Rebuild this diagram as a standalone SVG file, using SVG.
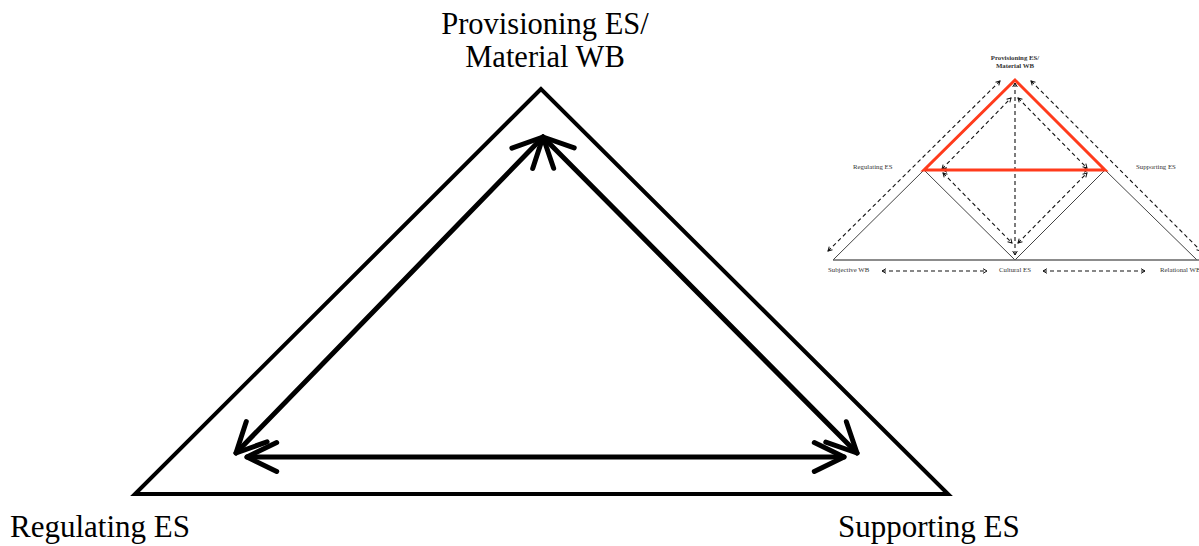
<svg xmlns="http://www.w3.org/2000/svg" width="1199" height="546" viewBox="0 0 1199 546">
<style>
.lbl{font-family:"Liberation Serif","Times New Roman",serif;font-size:31px;fill:#000}
.tri{fill:none;stroke:#000;stroke-width:4;stroke-linejoin:miter}
.arr{fill:none;stroke:#000;stroke-width:5;stroke-linecap:round}
.small{font-family:"Liberation Serif","Times New Roman",serif;font-size:6.8px;fill:#333}
.thin{fill:none;stroke:#444;stroke-width:1}
.dash{fill:none;stroke:#111;stroke-width:1.1;stroke-dasharray:4 3}
.red{fill:none;stroke:#ff3b1c;stroke-width:3;stroke-linejoin:miter}
</style>
<defs>
<marker id="big" markerUnits="userSpaceOnUse" markerWidth="44" markerHeight="44" viewBox="-38 -22 44 44" refX="0" refY="0" orient="auto-start-reverse" overflow="visible">
<path d="M -29.7,-14.5 L 0,0 L -29.7,14.5" fill="none" stroke="#000" stroke-width="5" stroke-linecap="round" stroke-linejoin="round"/>
</marker>
<marker id="sm" markerUnits="userSpaceOnUse" markerWidth="10" markerHeight="10" viewBox="-6 -5 10 10" refX="0" refY="0" orient="auto-start-reverse" overflow="visible">
<path d="M -4,-2.3 L 0,0 L -4,2.3" fill="none" stroke="#111" stroke-width="1"/>
</marker>
</defs>
<rect width="1199" height="546" fill="#fff"/>

<g id="main-triangle">
<polygon class="tri" points="541,89 135,494 948,494"/>
</g>

<g id="connectors">
<line class="arr" x1="543" y1="137" x2="236" y2="453" marker-start="url(#big)" marker-end="url(#big)"/>
<line class="arr" x1="543" y1="137" x2="857" y2="453" marker-start="url(#big)" marker-end="url(#big)"/>
<line class="arr" x1="247" y1="457" x2="844" y2="457" marker-start="url(#big)" marker-end="url(#big)"/>
</g>

<g id="node-provisioning">
<text class="lbl" x="545" y="34" text-anchor="middle" style="font-size:30.5px">Provisioning ES/</text>
<text class="lbl" x="545" y="67" text-anchor="middle" style="font-size:30.5px">Material WB</text>
</g>
<g id="node-regulating">
<text class="lbl" x="10" y="537">Regulating ES</text>
</g>
<g id="node-supporting">
<text class="lbl" x="838" y="537">Supporting ES</text>
</g>

<g id="inset">
<path class="thin" d="M 924,170 L 833,260 M 924,170 L 1015,260 L 1105,170 L 1197,260"/>
<line x1="833" y1="260" x2="1199" y2="260" stroke="#666" stroke-width="1.6"/>
<g id="inset-connectors">
<line class="dash" x1="828" y1="251" x2="1000" y2="81" marker-start="url(#sm)" marker-end="url(#sm)"/>
<line class="dash" x1="1031" y1="81" x2="1201" y2="251" marker-start="url(#sm)" marker-end="url(#sm)"/>
<line class="dash" x1="942" y1="169" x2="1011" y2="98" marker-start="url(#sm)" marker-end="url(#sm)"/>
<line class="dash" x1="1018" y1="98" x2="1087" y2="168" marker-start="url(#sm)" marker-end="url(#sm)"/>
<line class="dash" x1="943" y1="173" x2="1012" y2="243" marker-start="url(#sm)" marker-end="url(#sm)"/>
<line class="dash" x1="1018" y1="243" x2="1087" y2="173" marker-start="url(#sm)" marker-end="url(#sm)"/>
<line class="dash" x1="1015" y1="83" x2="1015" y2="255" marker-start="url(#sm)" marker-end="url(#sm)"/>
<line class="dash" x1="943" y1="170" x2="1088" y2="170" marker-start="url(#sm)" marker-end="url(#sm)"/>
<line class="dash" x1="882" y1="271" x2="987" y2="271" marker-start="url(#sm)" marker-end="url(#sm)"/>
<line class="dash" x1="1043" y1="271" x2="1145" y2="271" marker-start="url(#sm)" marker-end="url(#sm)"/>
</g>
<polygon class="red" points="1015,80 924,170 1105,170"/>
<g id="inset-labels">
<text class="small" x="1015" y="60" text-anchor="middle" font-weight="bold">Provisioning ES/</text>
<text class="small" x="1015" y="67.5" text-anchor="middle" font-weight="bold">Material WB</text>
<text class="small" x="853" y="169">Regulating ES</text>
<text class="small" x="1136" y="169">Supporting ES</text>
<text class="small" x="828" y="272">Subjective WB</text>
<text class="small" x="999" y="272">Cultural ES</text>
<text class="small" x="1160" y="272">Relational WB</text>
</g>
</g>
</svg>
